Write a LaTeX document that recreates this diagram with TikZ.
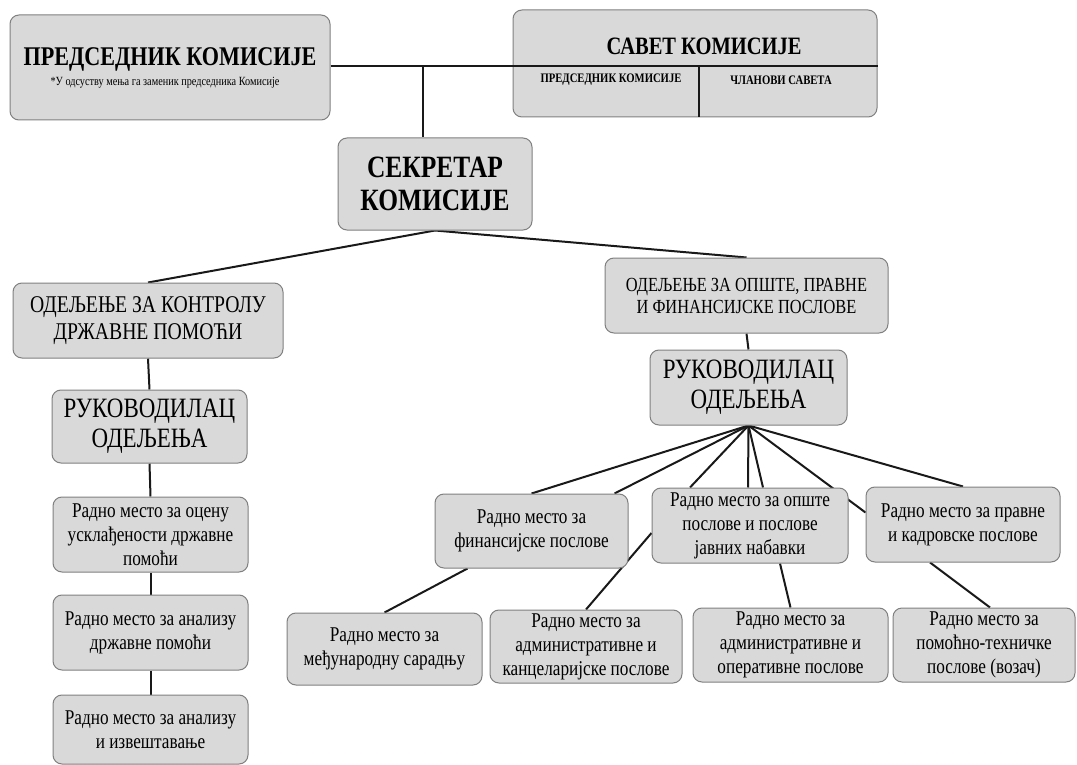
\documentclass[tikz,border=0pt]{standalone}
\usepackage{fontspec}
\setmainfont{Liberation Serif}[FakeStretch=0.82]
\usetikzlibrary{backgrounds}
\begin{document}
\begin{tikzpicture}[x=1pt,y=-1pt,
  box/.style={draw=black!50, fill=black!15, rounded corners=9pt, line width=1pt, align=center, inner sep=1pt},
  conn/.style={line width=2pt, draw=black!90},
  bigb/.style={font=\fontsize{27}{32}\selectfont\bfseries},
  secf/.style={font=\fontsize{31}{33}\selectfont\bfseries},
  savf/.style={font=\fontsize{25}{28}\selectfont\bfseries},
  cellf/.style={font=\fontsize{13}{15}\selectfont\bfseries},
  subf/.style={font=\fontsize{12.5}{14}\selectfont},
  deptL/.style={font=\fontsize{24}{27}\selectfont},
  deptR/.style={font=\fontsize{20}{22}\selectfont},
  rukf/.style={font=\fontsize{28}{30}\selectfont},
  smallf/.style={font=\fontsize{21}{24}\selectfont}]
\useasboundingbox (0,0) rectangle (1077,765);

% top row
\node[box, minimum width=320pt, minimum height=105pt] (pred) at (170,67.5) {};
\node[bigb] (predT) at (170,59) {ПРЕДСЕДНИК КОМИСИЈЕ};
\node[subf] (predS) at (165,83) {*У одсуству мења га заменик председника Комисије};

\node[box, minimum width=364pt, minimum height=107pt] (savet) at (695,63.5) {};
\node[savf] (savetT) at (704,46) {САВЕТ КОМИСИЈЕ};
\node[cellf] (savetA) at (611,80) {ПРЕДСЕДНИК КОМИСИЈЕ};
\node[cellf] (savetB) at (781,80) {ЧЛАНОВИ САВЕТА};
\coordinate (sdiv) at (699,66);
\coordinate (j1) at (423,66);

\node[box, secf, minimum width=194pt, minimum height=92pt] (sek) at (435,184) {СЕКРЕТАР\\КОМИСИЈЕ};

% left branch
\node[box, deptL, minimum width=270pt, minimum height=75pt] (dL) at (148,320.5) {ОДЕЉЕЊЕ ЗА КОНТРОЛУ\\ДРЖАВНЕ ПОМОЋИ};
\node[box, rukf, minimum width=195pt, minimum height=73pt] (rukL) at (149.5,426.5) {РУКОВОДИЛАЦ\\ОДЕЉЕЊА};
\node[box, smallf, minimum width=195pt, minimum height=75pt] (ocena) at (150.5,534.5) {Радно место за оцену\\усклађености државне\\помоћи};
\node[box, smallf, minimum width=195pt, minimum height=75pt] (analiza) at (150.5,632.5) {Радно место за анализу\\државне помоћи};
\node[box, smallf, minimum width=195pt, minimum height=69pt] (izvest) at (150.5,729.5) {Радно место за анализу\\и извештавање};

% right branch
\node[box, deptR, minimum width=283pt, minimum height=75pt] (dR) at (746.5,295.5) {ОДЕЉЕЊЕ ЗА ОПШТЕ, ПРАВНЕ\\И ФИНАНСИЈСКЕ ПОСЛОВЕ};
\node[box, rukf, minimum width=197pt, minimum height=75pt] (rukR) at (748.5,387.5) {РУКОВОДИЛАЦ\\ОДЕЉЕЊА};

\node[box, smallf, minimum width=193pt, minimum height=74pt] (fin) at (531.5,531) {Радно место за\\финансијске послове};
\node[box, smallf, minimum width=196pt, minimum height=75pt] (gen) at (750,525.5) {Радно место за опште\\послове и послове\\јавних набавки};
\node[box, smallf, minimum width=194pt, minimum height=75pt] (prav) at (963,524.5) {Радно место за правне\\и кадровске послове};

\node[box, smallf, minimum width=195pt, minimum height=72pt] (medj) at (384.5,649) {Радно место за\\међународну сарадњу};
\node[box, smallf, minimum width=192pt, minimum height=73pt] (adk) at (586,646.5) {Радно место за\\административне и\\канцеларијске послове};
\node[box, smallf, minimum width=195pt, minimum height=74pt] (ado) at (790.5,645) {Радно место за\\административне и\\оперативне послове};
\node[box, smallf, minimum width=182pt, minimum height=74pt] (pom) at (984,645) {Радно место за\\помоћно-техничке\\послове (возач)};

% savet inner dividers
\draw[conn] (pred.east |- sdiv) -- (savet.east |- sdiv);
\draw[conn] (sdiv) -- (sdiv |- savet.south);

\begin{scope}[on background layer]
\fill[white] (0,0) rectangle (1077,765);
\draw[conn] (j1) -- (j1 |- sek.north);
\draw[conn] (sek.south) -- (dL.north);
\draw[conn] (sek.south) -- (dR.north);
\draw[conn] (dL.south) -- (rukL.north);
\draw[conn] (rukL.south) -- (ocena.north);
\draw[conn] (ocena.south) -- (analiza.north);
\draw[conn] (analiza.south) -- (izvest.north);
\draw[conn] (dR.south) -- (rukR.north);
\draw[conn] (rukR.south) -- (fin.north);
\draw[conn] (rukR.south) -- ([xshift=83pt]fin.north);
\draw[conn] (rukR.south) -- ([xshift=-60pt]gen.north);
\draw[conn] (rukR.south) -- ([xshift=-2pt]gen.north);
\draw[conn] (rukR.south) -- ([xshift=13pt]gen.north);
\draw[conn] (rukR.south) -- ([yshift=12pt]prav.west);
\draw[conn] (rukR.south) -- (prav.north);
\draw[conn] ([xshift=-64pt]fin.south) -- (medj.north);
\draw[conn] ([yshift=-7.5pt]gen.west) -- (adk.north);
\draw[conn] ([xshift=30pt]gen.south) -- (ado.north);
\draw[conn] ([xshift=-33pt]prav.south) -- ([xshift=6pt]pom.north);
\end{scope}
\end{tikzpicture}
\end{document}
